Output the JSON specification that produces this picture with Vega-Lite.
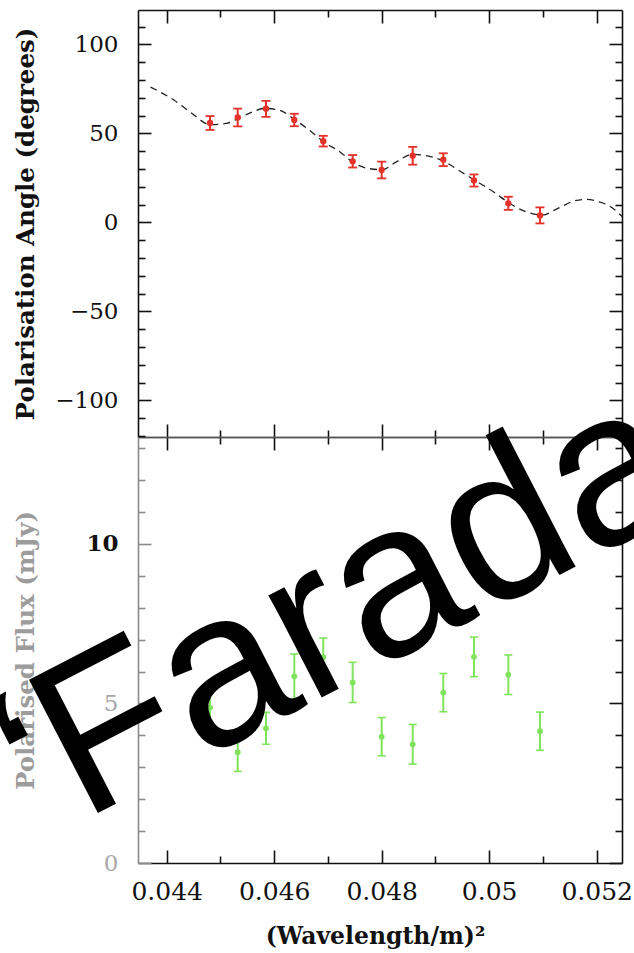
{
  "$schema": "https://vega.github.io/schema/vega-lite/v6.json",
  "width": 484,
  "height": 853,
  "autosize": {"type": "none"},
  "padding": {"left": 138, "top": 10, "right": 12, "bottom": 90},
  "background": "white",
  "config": {
    "view": {"stroke": null},
    "axis": {
      "grid": false,
      "domainColor": "#111",
      "domainWidth": 1.6,
      "tickColor": "#111",
      "tickWidth": 1.6,
      "labelFont": "DejaVu Serif",
      "labelFontSize": 23,
      "labelColor": "#111",
      "titleFont": "DejaVu Serif",
      "titleFontWeight": "bold",
      "titleFontSize": 24.5,
      "titleColor": "#111",
      "labelOverlap": false,
      "labelFlush": false,
      "labelBound": false
    }
  },
  "datasets": {
    "curve": [
      {"x": 0.04370, "pa": 76.0},
      {"x": 0.044134, "pa": 68.7},
      {"x": 0.044471, "pa": 61.2},
      {"x": 0.044806, "pa": 54.9},
      {"x": 0.045111, "pa": 55.6},
      {"x": 0.045338, "pa": 58.4},
      {"x": 0.045600, "pa": 62.1},
      {"x": 0.045827, "pa": 64.0},
      {"x": 0.046089, "pa": 63.1},
      {"x": 0.046391, "pa": 57.5},
      {"x": 0.046692, "pa": 50.9},
      {"x": 0.046917, "pa": 45.3},
      {"x": 0.047219, "pa": 39.7},
      {"x": 0.047481, "pa": 33.4},
      {"x": 0.047745, "pa": 30.3},
      {"x": 0.048007, "pa": 29.6},
      {"x": 0.048272, "pa": 34.0},
      {"x": 0.048573, "pa": 38.2},
      {"x": 0.048873, "pa": 37.2},
      {"x": 0.049174, "pa": 34.0},
      {"x": 0.049475, "pa": 28.4},
      {"x": 0.049777, "pa": 22.8},
      {"x": 0.050076, "pa": 17.2},
      {"x": 0.050378, "pa": 10.7},
      {"x": 0.050679, "pa": 6.0},
      {"x": 0.050979, "pa": 4.1},
      {"x": 0.051280, "pa": 7.9},
      {"x": 0.051581, "pa": 12.0},
      {"x": 0.051807, "pa": 12.9},
      {"x": 0.052033, "pa": 11.6},
      {"x": 0.052259, "pa": 8.8},
      {"x": 0.052409, "pa": 5.1},
      {"x": 0.052550, "pa": 1.0}
    ],
    "pa": [
      {"x": 0.044806, "pa": 55.8, "lo": 51.9, "hi": 59.7},
      {"x": 0.045321, "pa": 58.9, "lo": 53.9, "hi": 63.9},
      {"x": 0.045847, "pa": 63.8, "lo": 59.3, "hi": 68.3},
      {"x": 0.046374, "pa": 57.5, "lo": 54.0, "hi": 61.0},
      {"x": 0.046913, "pa": 45.6, "lo": 42.6, "hi": 48.6},
      {"x": 0.047460, "pa": 34.3, "lo": 30.8, "hi": 37.8},
      {"x": 0.048000, "pa": 29.4, "lo": 24.7, "hi": 34.1},
      {"x": 0.048577, "pa": 37.4, "lo": 32.4, "hi": 42.4},
      {"x": 0.049146, "pa": 35.2, "lo": 31.6, "hi": 38.8},
      {"x": 0.049717, "pa": 23.5, "lo": 20.1, "hi": 26.9},
      {"x": 0.050356, "pa": 10.7, "lo": 7.0, "hi": 14.4},
      {"x": 0.050945, "pa": 3.9, "lo": -0.6, "hi": 8.4}
    ],
    "flux": [
      {"x": 0.044806, "flux": 4.87, "lo": 4.27, "hi": 5.47},
      {"x": 0.045321, "flux": 3.47, "lo": 2.87, "hi": 4.07},
      {"x": 0.045847, "flux": 4.22, "lo": 3.72, "hi": 4.72},
      {"x": 0.046374, "flux": 5.85, "lo": 5.15, "hi": 6.55},
      {"x": 0.046913, "flux": 6.45, "lo": 5.85, "hi": 7.05},
      {"x": 0.047460, "flux": 5.66, "lo": 5.03, "hi": 6.29},
      {"x": 0.048000, "flux": 3.96, "lo": 3.36, "hi": 4.56},
      {"x": 0.048577, "flux": 3.72, "lo": 3.10, "hi": 4.34},
      {"x": 0.049146, "flux": 5.34, "lo": 4.74, "hi": 5.94},
      {"x": 0.049717, "flux": 6.46, "lo": 5.84, "hi": 7.08},
      {"x": 0.050356, "flux": 5.90, "lo": 5.28, "hi": 6.52},
      {"x": 0.050945, "flux": 4.13, "lo": 3.53, "hi": 4.73}
    ],
    "label": [
      {"x": 0.041226, "y": 0.266, "text": "“Farada"}
    ]
  },
  "layer": [
    {
      "layer": [
        {
          "data": {"name": "curve"},
          "mark": {"type": "line", "strokeDash": [7, 5], "color": "#222", "strokeWidth": 1.3, "interpolate": "monotone", "clip": true},
          "encoding": {
            "x": {"field": "x", "type": "quantitative",
              "scale": {"domain": [0.043466, 0.052471], "nice": false, "zero": false},
              "axis": {"orient": "top", "values": [0.044, 0.045, 0.046, 0.047, 0.048, 0.049, 0.05, 0.051, 0.052],
                "tickSize": {"condition": {"test": "round(datum.value*1000) % 2 === 0", "value": -13}, "value": -7},
                "labels": false, "title": null}},
            "y": {"field": "pa", "type": "quantitative",
              "scale": {"domain": [-120.6, 119.3], "nice": false, "zero": false, "range": [427, 0]},
              "axis": {"orient": "left",
                "values": [-120, -110, -100, -90, -80, -70, -60, -50, -40, -30, -20, -10, 0, 10, 20, 30, 40, 50, 60, 70, 80, 90, 100, 110],
                "tickSize": {"condition": {"test": "datum.value % 50 === 0", "value": -13}, "value": -7},
                "labelExpr": "datum.value % 50 === 0 ? datum.label : ''",
                "labelPadding": 33,
                "title": "Polarisation Angle (degrees)",
                "titleX": -105, "titleBaseline": "alphabetic", "titleAngle": 270}}
          }
        },
        {
          "data": {"name": "pa"},
          "mark": {"type": "rule", "color": "#e3322a", "strokeWidth": 2},
          "encoding": {
            "x": {"field": "x", "type": "quantitative",
              "scale": {"domain": [0.043466, 0.052471], "nice": false, "zero": false},
              "axis": {"orient": "bottom", "offset": -426, "values": [0.044, 0.045, 0.046, 0.047, 0.048, 0.049, 0.05, 0.051, 0.052],
                "tickSize": {"condition": {"test": "round(datum.value*1000) % 2 === 0", "value": -13}, "value": -7},
                "labels": false, "title": null, "domainColor": "#555"}},
            "y": {"field": "lo", "type": "quantitative",
              "scale": {"domain": [-120.6, 119.3], "nice": false, "zero": false, "range": [427, 0]},
              "axis": {"orient": "right",
                "values": [-120, -110, -100, -90, -80, -70, -60, -50, -40, -30, -20, -10, 0, 10, 20, 30, 40, 50, 60, 70, 80, 90, 100, 110],
                "tickSize": {"condition": {"test": "datum.value % 50 === 0", "value": -13}, "value": -7},
                "labels": false, "title": null}},
            "y2": {"field": "hi"}
          }
        },
        {
          "data": {"name": "pa"},
          "mark": {"type": "tick", "orient": "horizontal", "size": 9, "thickness": 1.8, "color": "#e3322a", "opacity": 1},
          "encoding": {
            "x": {"field": "x", "type": "quantitative", "scale": {"domain": [0.043466, 0.052471], "nice": false, "zero": false}, "axis": null},
            "y": {"field": "lo", "type": "quantitative", "scale": {"domain": [-120.6, 119.3], "nice": false, "zero": false, "range": [427, 0]}, "axis": null}
          }
        },
        {
          "data": {"name": "pa"},
          "mark": {"type": "tick", "orient": "horizontal", "size": 9, "thickness": 1.8, "color": "#e3322a", "opacity": 1},
          "encoding": {
            "x": {"field": "x", "type": "quantitative", "scale": {"domain": [0.043466, 0.052471], "nice": false, "zero": false}, "axis": null},
            "y": {"field": "hi", "type": "quantitative", "scale": {"domain": [-120.6, 119.3], "nice": false, "zero": false, "range": [427, 0]}, "axis": null}
          }
        },
        {
          "data": {"name": "pa"},
          "mark": {"type": "circle", "size": 40, "color": "#e3322a", "opacity": 1},
          "encoding": {
            "x": {"field": "x", "type": "quantitative", "scale": {"domain": [0.043466, 0.052471], "nice": false, "zero": false}, "axis": null},
            "y": {"field": "pa", "type": "quantitative", "scale": {"domain": [-120.6, 119.3], "nice": false, "zero": false, "range": [427, 0]}, "axis": null}
          }
        }
      ],
      "resolve": {"axis": {"x": "independent", "y": "independent"}}
    },
    {
      "layer": [
        {
          "data": {"name": "flux"},
          "mark": {"type": "rule", "color": "#7fe35c", "strokeWidth": 2},
          "encoding": {
            "x": {"field": "x", "type": "quantitative",
              "scale": {"domain": [0.043466, 0.052471], "nice": false, "zero": false},
              "axis": {"orient": "top", "offset": -427, "values": [0.044, 0.045, 0.046, 0.047, 0.048, 0.049, 0.05, 0.051, 0.052],
                "tickSize": {"condition": {"test": "round(datum.value*1000) % 2 === 0", "value": -13}, "value": -7},
                "labels": false, "title": null, "domainColor": "#555"}},
            "y": {"field": "lo", "type": "quantitative",
              "scale": {"domain": [0, 13.35], "nice": false, "zero": false, "range": [853, 427]},
              "axis": {"orient": "left",
                "values": [0, 1, 2, 3, 4, 5, 6, 7, 8, 9, 10, 11, 12, 13],
                "tickSize": {"condition": {"test": "datum.value % 5 === 0", "value": -13}, "value": -7},
                "labelExpr": "datum.value % 5 === 0 ? datum.label : ''",
                "labelPadding": 33,
                "labelColor": {"condition": {"test": "datum.value < 10", "value": "#a8a8a8"}, "value": "#111"},
                "labelFontWeight": {"condition": {"test": "datum.value === 10", "value": "bold"}, "value": "normal"},
                "domainColor": "#8a8a8a", "tickColor": "#8a8a8a",
                "title": "Polarised Flux (mJy)", "titleColor": "#9c9c9c",
                "titleX": -105, "titleBaseline": "alphabetic", "titleAngle": 270}},
            "y2": {"field": "hi"}
          }
        },
        {
          "data": {"name": "flux"},
          "mark": {"type": "tick", "orient": "horizontal", "size": 8, "thickness": 1.6, "color": "#7fe35c", "opacity": 1},
          "encoding": {
            "x": {"field": "x", "type": "quantitative",
              "scale": {"domain": [0.043466, 0.052471], "nice": false, "zero": false},
              "axis": {"orient": "bottom", "values": [0.044, 0.045, 0.046, 0.047, 0.048, 0.049, 0.05, 0.051, 0.052],
                "tickSize": {"condition": {"test": "round(datum.value*1000) % 2 === 0", "value": -13}, "value": -7},
                "labelExpr": "round(datum.value*1000) % 2 === 0 ? format(datum.value, '~g') : ''",
                "labelFontSize": 25, "labelPadding": 29,
                "title": "(Wavelength/m)²", "titleFontSize": 23.5, "titleY": 80, "titleX": 237, "titleBaseline": "alphabetic"}},
            "y": {"field": "lo", "type": "quantitative",
              "scale": {"domain": [0, 13.35], "nice": false, "zero": false, "range": [853, 427]},
              "axis": {"orient": "right",
                "values": [0, 1, 2, 3, 4, 5, 6, 7, 8, 9, 10, 11, 12, 13],
                "tickSize": {"condition": {"test": "datum.value % 5 === 0", "value": -13}, "value": -7},
                "labels": false, "title": null}}
          }
        },
        {
          "data": {"name": "flux"},
          "mark": {"type": "tick", "orient": "horizontal", "size": 8, "thickness": 1.6, "color": "#7fe35c", "opacity": 1},
          "encoding": {
            "x": {"field": "x", "type": "quantitative", "scale": {"domain": [0.043466, 0.052471], "nice": false, "zero": false}, "axis": null},
            "y": {"field": "hi", "type": "quantitative", "scale": {"domain": [0, 13.35], "nice": false, "zero": false, "range": [853, 427]}, "axis": null}
          }
        },
        {
          "data": {"name": "flux"},
          "mark": {"type": "circle", "size": 34, "color": "#7fe35c", "opacity": 1},
          "encoding": {
            "x": {"field": "x", "type": "quantitative", "scale": {"domain": [0.043466, 0.052471], "nice": false, "zero": false}, "axis": null},
            "y": {"field": "flux", "type": "quantitative", "scale": {"domain": [0, 13.35], "nice": false, "zero": false, "range": [853, 427]}, "axis": null}
          }
        },
        {
          "data": {"name": "label"},
          "mark": {"type": "text", "angle": 332.7, "align": "left", "baseline": "alphabetic", "font": "Liberation Sans", "fontSize": 218, "color": "#000"},
          "encoding": {
            "x": {"field": "x", "type": "quantitative", "scale": {"domain": [0.043466, 0.052471], "nice": false, "zero": false}, "axis": null},
            "y": {"field": "y", "type": "quantitative", "scale": {"domain": [0, 13.35], "nice": false, "zero": false, "range": [853, 427]}, "axis": null},
            "text": {"field": "text", "type": "nominal"}
          }
        }
      ],
      "resolve": {"axis": {"x": "independent", "y": "independent"}}
    }
  ],
  "resolve": {"scale": {"y": "independent"}, "axis": {"x": "independent", "y": "independent"}}
}
